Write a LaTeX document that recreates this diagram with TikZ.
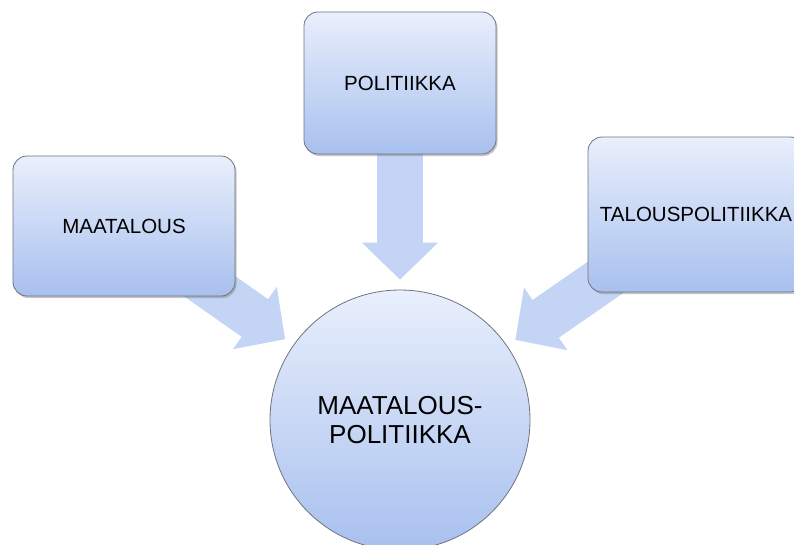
\documentclass[tikz,border=0pt]{standalone}
\usepackage{fontspec}
\setmainfont{Liberation Sans}
\usetikzlibrary{arrows.meta,positioning,shadows,backgrounds}
\definecolor{boxtop}{HTML}{E9EFFC}
\definecolor{boxbottom}{HTML}{A8C0EE}
\definecolor{arrowblue}{HTML}{C3D4F5}
\definecolor{edgegray}{HTML}{6E7380}

\begin{document}
\begin{tikzpicture}[
  x=1pt, y=-1pt,
  box/.style={rectangle, rounded corners=14pt, draw=edgegray, line width=0.8pt, top color=boxtop, bottom color=boxbottom, align=center, font=\fontsize{20.5}{24}\selectfont, drop shadow={shadow xshift=1.5pt, shadow yshift=-2pt, opacity=0.45}},
  hub/.style={circle, draw=edgegray, line width=0.8pt, top color=boxtop, bottom color=boxbottom, minimum size=260pt, inner sep=0pt, align=center, font=\fontsize{26}{29}\selectfont},
  blockarrow/.style={line width=46pt, draw=arrowblue, -{Triangle[length=37pt, width=74pt]}, shorten >=10pt}
]
\useasboundingbox (0,0) rectangle (794,544);

\node[hub] (circ) at (400,420) {MAATALOUS-\\POLITIIKKA};
\node[box, minimum width=192pt, minimum height=142pt] (pol) at (400,83) {POLITIIKKA};
\node[box, minimum width=222pt, minimum height=140pt] (maat) at (124,226) {MAATALOUS};
\node[box, minimum width=216pt, minimum height=155pt] (talous) at (696,214.5) {TALOUSPOLITIIKKA};

% block arrows behind the boxes
\begin{scope}[on background layer]
\draw[blockarrow] (pol.center) -- (circ);
\draw[blockarrow] (maat.center) -- (circ);
\draw[blockarrow] (talous.center) -- (circ);
\end{scope}

\end{tikzpicture}
\end{document}
